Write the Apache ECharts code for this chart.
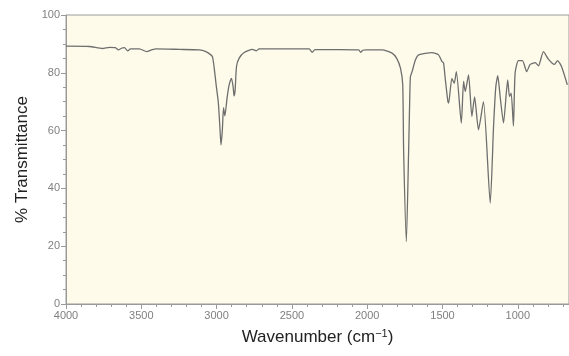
<!DOCTYPE html>
<html>
<head>
<meta charset="utf-8">
<script src="https://cdn.jsdelivr.net/npm/echarts@6/dist/echarts.min.js"></script>
<style>
html, body { margin: 0; padding: 0; background: #fff; }
#chart { width: 569px; height: 356px; }
</style>
</head>
<body>
<div id="chart"></div>
<script>
// wavenumber (cm-1) and % transmittance
var wavenumber = [4000, 3844, 3758, 3711, 3672, 3652, 3632, 3612, 3590, 3572, 3513, 3464, 3433, 3400, 3248, 3115, 3071, 3038, 3027, 3016, 3003, 2989, 2979, 2971, 2962, 2954, 2945, 2930, 2916, 2901, 2890, 2884, 2877, 2868, 2851, 2817, 2762, 2736, 2718, 2386, 2365, 2347, 2188, 2056, 2044, 2029, 2009, 1901, 1835, 1804, 1779, 1764, 1758, 1740, 1725, 1718, 1713, 1702, 1680, 1658, 1570, 1526, 1504, 1493, 1481, 1464, 1459, 1438, 1422, 1408, 1375, 1360, 1349, 1327, 1305, 1287, 1261, 1228, 1183, 1161, 1146, 1133, 1117, 1095, 1067, 1055, 1044, 1029, 1018, 996, 969, 941, 918, 885, 863, 830, 797, 775, 757, 736, 709, 671];
var transmittance = [89.2, 89.1, 88.4, 88.8, 88.7, 87.9, 88.5, 88.7, 87.6, 88.3, 88.3, 87.3, 87.9, 88.3, 88.1, 87.9, 87.3, 86.2, 85.5, 81.7, 75.8, 70, 62, 55.1, 60, 67.9, 65.1, 71.5, 76, 78.1, 75, 72, 74, 82.1, 85, 87, 88.1, 87.6, 88.3, 88.3, 87.1, 88, 88, 87.9, 87.1, 87.8, 87.9, 87.9, 86.8, 85, 81.6, 75.8, 52.7, 21.6, 52.7, 70, 78.7, 80.4, 84.4, 86.2, 87, 86.2, 83.9, 83.4, 77.5, 70, 69.5, 78.1, 76.4, 80.4, 62.6, 77, 73.5, 79.3, 64.9, 71.7, 60.3, 70, 34.9, 61.4, 75.2, 79, 71.7, 62.6, 77.5, 71.8, 73, 61.6, 79.9, 84.2, 84.2, 80.4, 82.9, 83.5, 82.4, 87.3, 84.7, 83.5, 82.9, 84.2, 82.1, 75.8];
var xMajor = [4000, 3500, 3000, 2500, 2000, 1500, 1000];
var xMinor = [3900, 3800, 3700, 3600, 3400, 3300, 3200, 3100, 2900, 2800, 2700, 2600, 2400, 2300, 2200, 2100, 1900, 1800, 1700, 1600, 1400, 1300, 1200, 1100, 900, 800, 700];

var points = [];
for (var i = 0; i < wavenumber.length; i++) {
	points.push([wavenumber[i], transmittance[i]]);
}

var myChart = echarts.init(document.getElementById('chart'));
var font = 'Liberation Sans, Arial, sans-serif';
var option = {
	animation: false,
	grid: {
		left: 66,
		right: -2,
		top: 15,
		bottom: 52,
		show: true,
		backgroundColor: '#fefbea',
		borderColor: '#9a9a9a',
		borderWidth: 1
	},
	xAxis: [{
		type: 'value',
		inverse: true,
		min: 660,
		max: 4000,
		name: '{n|Wavenumber (cm}{s|−1}{n|)}',
		nameLocation: 'middle',
		nameGap: 24,
		nameTextStyle: {
			rich: {
				n: { fontFamily: font, fontSize: 17, color: '#222' },
				s: { fontFamily: font, fontSize: 11, color: '#222', verticalAlign: 'top', padding: [0, 0, 8, 0] }
			}
		},
		axisLine: { lineStyle: { color: '#9a9a9a' } },
		axisTick: { length: 5, lineStyle: { color: '#9a9a9a' }, customValues: xMajor },
		axisLabel: {
			color: '#808080', fontSize: 11, fontFamily: font, margin: 6, customValues: xMajor,
			formatter: function (v) { return String(v); }
		},
		splitLine: { show: false }
	}, {
		type: 'value',
		inverse: true,
		min: 660,
		max: 4000,
		position: 'bottom',
		axisLine: { show: true, lineStyle: { color: '#9a9a9a' } },
		axisTick: { show: true, length: 3, lineStyle: { color: '#9a9a9a' }, customValues: xMinor },
		axisLabel: { show: true, color: 'rgba(0,0,0,0)', customValues: xMinor, formatter: function () { return ''; } },
		splitLine: { show: false }
	}],
	yAxis: {
		type: 'value',
		min: 0,
		max: 100,
		interval: 20,
		name: '% Transmittance',
		nameLocation: 'middle',
		nameGap: 34,
		nameTextStyle: { fontFamily: font, fontSize: 17, color: '#222' },
		axisLine: { show: true, lineStyle: { color: '#9a9a9a' } },
		axisTick: { show: true, length: 5, lineStyle: { color: '#9a9a9a' } },
		minorTick: { show: true, splitNumber: 4, length: 3, lineStyle: { color: '#9a9a9a' } },
		axisLabel: { color: '#808080', fontSize: 11, fontFamily: font, margin: 6 },
		splitLine: { show: false }
	},
	series: [{
		type: 'line',
		data: points,
		showSymbol: false,
		smooth: 0.2,
		lineStyle: { color: '#6e6e6e', width: 1.3 }
	}]
};
myChart.setOption(option);
</script>
</body>
</html>
